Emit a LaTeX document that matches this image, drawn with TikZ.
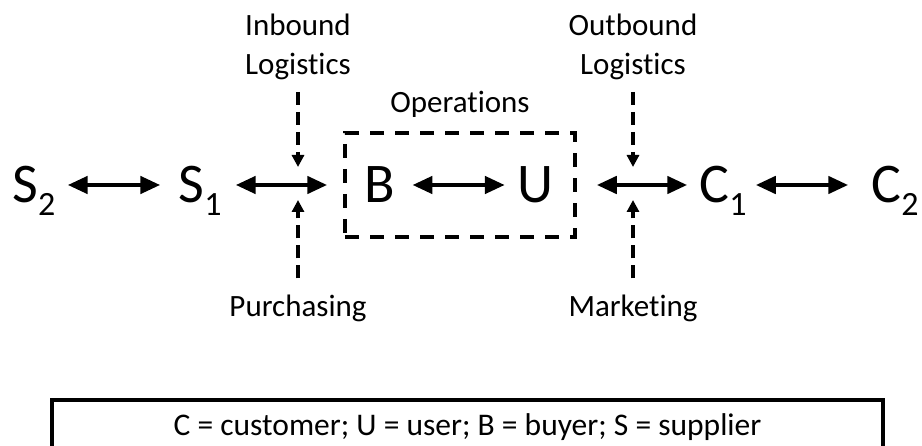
\documentclass[tikz,border=0pt]{standalone}
\usepackage{fontspec}
\setmainfont{Carlito}[Ligatures=NoCommon]
\usetikzlibrary{arrows.meta,positioning}
\newcommand{\idx}[1]{\raisebox{-13pt}{\fontsize{34}{34}\selectfont #1}}

\begin{document}
\begin{tikzpicture}[x=1pt,y=-1pt,
    letter/.style={inner sep=0pt,anchor=base,text height=36pt,text depth=0pt,font=\fontsize{56}{60}\selectfont},
    lbl/.style={inner sep=0pt,align=center,font=\fontsize{31}{39}\selectfont},
    biarrow/.style={line width=4.5pt,{Triangle[length=20pt,width=17pt]}-{Triangle[length=20pt,width=17pt]}},
    feed/.style={line width=4pt,dash pattern=on 13pt off 7pt,-{Triangle[length=12pt,width=12pt]}},
    opsbox/.style={draw,line width=3.5pt,dash pattern=on 14pt off 11pt,minimum width=230pt,minimum height=104pt},
    keybox/.style={draw,line width=4pt,minimum width=831pt,minimum height=54pt,font=\fontsize{31.5}{36}\selectfont}]
\useasboundingbox (0,0) rectangle (922,446);

\node[letter] (S2) at (34,203) {S\idx{2}};
\node[letter] (S1) at (200,203) {S\idx{1}};
\node[letter] (B) at (380,203) {B};
\node[letter] (U) at (535,203) {U};
\node[letter] (C1) at (723,203) {C\idx{1}};
\node[letter] (C2) at (895,203) {C\idx{2}};
\node[opsbox] (ops) at (460,185) {};
\node[lbl,anchor=base] (opslbl) at (460,113) {Operations};

\coordinate (jin) at (298,185);
\coordinate (jout) at (633,185);
\node[lbl,anchor=south] (inb) at (298,80) {Inbound\\Logistics};
\node[lbl,anchor=south] (outb) at (633,80) {Outbound\\Logistics};
\node[lbl,anchor=base] (pur) at (298,317) {Purchasing};
\node[lbl,anchor=base] (mkt) at (633,317) {Marketing};

\draw[biarrow,shorten <=12pt,shorten >=18pt] (S2) -- (S1);
\draw[biarrow,shorten <=14pt,shorten >=16pt] (S1) -- (ops);
\draw[biarrow,shorten <=17pt,shorten >=12pt] (B) -- (U);
\draw[biarrow,shorten <=20pt,shorten >=12pt] (ops) -- (C1);
\draw[biarrow,shorten <=9pt,shorten >=23pt] (C1) -- (C2);

\draw[feed,shorten <=12pt,shorten >=18pt] (inb) -- (jin);
\draw[feed,shorten <=12pt,shorten >=18pt] (outb) -- (jout);
\draw[feed,shorten <=17pt,shorten >=15pt] (pur) -- (jin);
\draw[feed,shorten <=17pt,shorten >=15pt] (mkt) -- (jout);

\node[keybox] (key) at (467.5,427) {C = customer; U = user; B = buyer; S = supplier};
\end{tikzpicture}
\end{document}
